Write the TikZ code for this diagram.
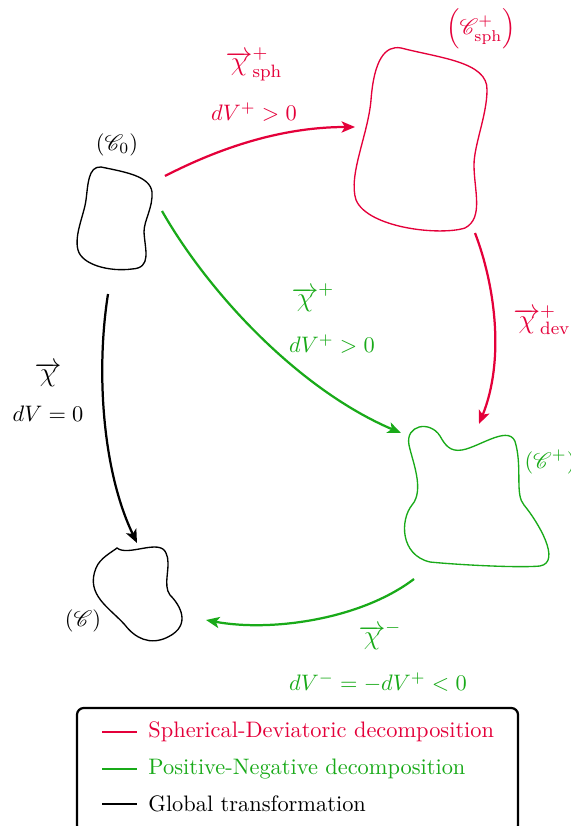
\documentclass[tikz,border=0pt]{standalone}
\usepackage{mathrsfs}
\usetikzlibrary{arrows.meta}
\definecolor{myred}{RGB}{228,0,58}
\definecolor{mygreen}{RGB}{25,170,25}
\tikzset{
  blob/.style={line width=0.6pt},
  conn/.style={line width=1pt,-{Stealth[length=6pt,width=5pt,inset=1.5pt]}},
  lbl/.style={inner sep=0pt},
  legline/.style={line width=1pt},
}
\begin{document}
\begin{tikzpicture}[x=0.4468pt,y=-0.4468pt]
\useasboundingbox (0,0) rectangle (570,826);
% blobs
\draw[blob] (101,167) .. controls (125,172) and (150,176) .. (152,192)
  .. controls (153,208) and (144,220) .. (144,232)
  .. controls (145,250) and (152,268) .. (132,269)
  .. controls (110,272) and (82,265) .. (78,250)
  .. controls (74,235) and (84,215) .. (86,200)
  .. controls (88,185) and (88,166) .. (101,167) -- cycle;
\draw[blob,myred] (401,48) .. controls (440,58) and (488,62) .. (487,90)
  .. controls (487,115) and (474,145) .. (474,165)
  .. controls (474,190) and (484,218) .. (465,228)
  .. controls (440,236) and (368,228) .. (356,200)
  .. controls (348,175) and (368,135) .. (371,100)
  .. controls (374,60) and (385,45) .. (401,48) -- cycle;
\draw[blob,mygreen] (409,445) .. controls (405,425) and (430,420) .. (440,436)
  .. controls (445,445) and (450,452) .. (462,450)
  .. controls (480,447) and (512,422) .. (516,445)
  .. controls (522,470) and (515,495) .. (524,505)
  .. controls (538,522) and (562,562) .. (540,566)
  .. controls (520,568) and (460,565) .. (430,562)
  .. controls (400,555) and (400,520) .. (412,505)
  .. controls (425,490) and (412,460) .. (409,445) -- cycle;
\draw[blob] (117,548) .. controls (128,557) and (160,538) .. (166,553)
  .. controls (172,565) and (162,585) .. (170,595)
  .. controls (180,605) and (192,625) .. (168,637)
  .. controls (150,646) and (135,638) .. (125,625)
  .. controls (110,608) and (85,595) .. (96,568)
  .. controls (100,558) and (112,552) .. (117,548) -- cycle;
% blob labels
\node[lbl] (c0) at (117,145) {$(\mathscr{C}_0)$};
\node[lbl,myred] (csph) at (481,29) {$\left(\mathscr{C}^{+}_{\mathrm{sph}}\right)$};
\node[lbl,mygreen] (cplus) at (550,462) {$(\mathscr{C}^{+})$};
\node[lbl] (cfin) at (83,621) {$(\mathscr{C})$};
% connector end points
\coordinate (r1s) at (165,176); \coordinate (r1e) at (355,127);
\coordinate (r2s) at (475,233); \coordinate (r2e) at (479,424);
\coordinate (g1s) at (162,211); \coordinate (g1e) at (401,433);
\coordinate (g2s) at (414,579); \coordinate (g2e) at (206,620);
\coordinate (bks) at (108,294); \coordinate (bke) at (137,543);
% connectors
\draw[conn,myred] (r1s) .. controls (235,140) and (295,127) .. (r1e);
\draw[conn,myred] (r2s) .. controls (495,285) and (505,360) .. (r2e);
\draw[conn,mygreen] (g1s) .. controls (210,295) and (300,390) .. (g1e);
\draw[conn,mygreen] (g2s) .. controls (360,620) and (270,632) .. (g2e);
\draw[conn] (bks) .. controls (96,370) and (102,470) .. (bke);
% connector labels
\node[lbl,myred] (lr1a) at (254,64) {\large$\overrightarrow{\chi}^{+}_{\mathrm{sph}}$};
\node[lbl,myred] (lr1b) at (254,112) {$dV^{+}>0$};
\node[lbl,myred] (lr2) at (542,320) {\large$\overrightarrow{\chi}^{+}_{\mathrm{dev}}$};
\node[lbl,mygreen] (lg1a) at (313,298) {\large$\overrightarrow{\chi}^{+}$};
\node[lbl,mygreen] (lg1b) at (332,344) {$dV^{+}>0$};
\node[lbl,mygreen] (lg2a) at (380,636) {\large$\overrightarrow{\chi}^{-}$};
\node[lbl,mygreen] (lg2b) at (378,683) {$dV^{-}=-dV^{+}<0$};
\node[lbl] (lba) at (48,375) {\large$\overrightarrow{\chi}$};
\node[lbl] (lbb) at (48,414) {$dV=0$};
% legend
\draw[line width=1pt,rounded corners=3pt] (77,708) rectangle (518,832);
\coordinate (l1a) at (102,732); \coordinate (l1b) at (137,732);
\coordinate (l2a) at (102,769); \coordinate (l2b) at (137,769);
\coordinate (l3a) at (102,804); \coordinate (l3b) at (137,804);
\draw[legline,myred] (l1a) -- (l1b);
\draw[legline,mygreen] (l2a) -- (l2b);
\draw[legline] (l3a) -- (l3b);
\node[anchor=west,inner sep=0pt,myred] (t1) at (148,732) {Spherical-Deviatoric decomposition};
\node[anchor=west,inner sep=0pt,mygreen] (t2) at (148,769) {Positive-Negative decomposition};
\node[anchor=west,inner sep=0pt] (t3) at (148,804) {Global transformation};
\end{tikzpicture}
\end{document}
